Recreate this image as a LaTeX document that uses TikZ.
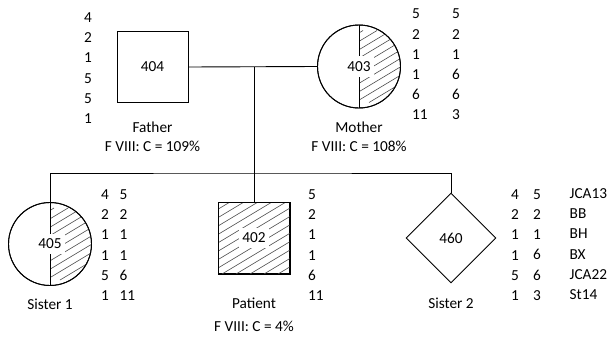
\documentclass[tikz,border=0pt]{standalone}
\usepackage{fontspec}
\setmainfont{Carlito}
\usetikzlibrary{shapes.geometric}
\begin{document}
\begin{tikzpicture}[x=1pt,y=-1pt,
  every node/.style={font=\fontsize{15.3}{20.2}\selectfont, inner sep=1pt},
  ln/.style={line width=0.9pt},
  hatch/.style={line width=0.6pt, draw=black!70},
  sq/.style={draw, ln, rectangle, minimum width=71pt, minimum height=71pt, inner sep=0pt},
  circ/.style={draw, ln, circle, minimum size=83pt, inner sep=0pt},
  dia/.style={draw, ln, diamond, minimum width=90pt, minimum height=90pt, inner sep=0pt},
  lbl/.style={fill=white, inner xsep=3pt, inner ysep=5pt},
  col/.style={align=left, anchor=west, inner sep=0pt}]
\useasboundingbox (0,0) rectangle (612,340);

% shapes
\node[sq]   (father)  at (152.5,67) {};
\node[circ] (mother)  at (359,66.5) {};
\node[circ] (sister1) at (50,244) {};
\node[sq]   (patient) at (254,238) {};
\node[dia]  (sister2) at (451,238) {};

% hatching
\begin{scope}
  \clip (359,66.5) circle (41.5);
  \clip (359,20) rectangle (405,115);
  \foreach \k in {-8,...,8} \draw[hatch] (\k*14+299,102.5) -- ++(120,-72);
\end{scope}
\begin{scope}
  \clip (50,244) circle (41.5);
  \clip (50,198) rectangle (96,290);
  \foreach \k in {-8,...,8} \draw[hatch] (\k*14-10,280) -- ++(120,-72);
\end{scope}
\begin{scope}
  \clip (218.5,202.5) rectangle (289.5,273.5);
  \foreach \k in {-10,...,10} \draw[hatch] (\k*14+194,274) -- ++(120,-72);
\end{scope}
\draw[ln] (patient.north west) rectangle (patient.south east);
\draw[ln] (mother.north) -- (mother.south);
\draw[ln] (sister1.north) -- (sister1.south);
\draw[ln] (mother.center) circle (41.5);
\draw[ln] (sister1.center) circle (41.5);

% ids
\node (id404) at (father.center) {404};
\node[lbl] (id403) at (mother.center) {403};
\node[lbl] (id405) at (sister1.center) {405};
\node[lbl] (id402) at (patient.center) {402};
\node (id460) at (sister2.center) {460};

% connectors
\coordinate (mid) at (254,67);
\coordinate (sibM) at (254,173);
\draw[ln] (father.east) -- (mother.west);
\draw[ln] (mid) -- (sibM);
\draw[ln] (sister1.north) |- (sibM) -| (sister2.north);
\draw[ln] (sibM) -- (patient.north);

% marker columns
\node[col] (fcol) at (84,68) {4\\2\\1\\5\\5\\1};
\node[col] (mcol1) at (412,64.5) {5\\2\\1\\1\\6\\11};
\node[col] (mcol2) at (452,64.5) {5\\2\\1\\6\\6\\3};
\node[col] (s1col1) at (101,245) {4\\2\\1\\1\\5\\1};
\node[col] (s1col2) at (119.5,245) {5\\2\\1\\1\\6\\11};
\node[col] (pcol) at (308,245) {5\\2\\1\\1\\6\\11};
\node[col] (s2col1) at (511,245) {4\\2\\1\\1\\5\\1};
\node[col] (s2col2) at (533,245) {5\\2\\1\\6\\6\\3};
\node[col] (names) at (569.5,244) {JCA13\\BB\\BH\\BX\\JCA22\\St14};

% labels
\node (lfa) at (152.5,127) {Father};
\node (lfa2) at (152.5,146) {F VIII: C = 109\%};
\node (lmo) at (359,127) {Mother};
\node (lmo2) at (359,146) {F VIII: C = 108\%};
\node (ls1) at (50,304) {Sister 1};
\node (lpa) at (254,303) {Patient};
\node (lpa2) at (254,326) {F VIII: C = 4\%};
\node (ls2) at (451,303) {Sister 2};
\end{tikzpicture}
\end{document}
